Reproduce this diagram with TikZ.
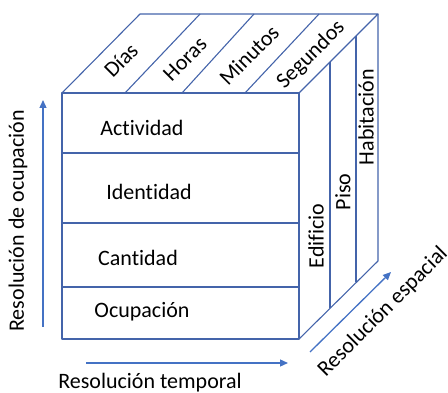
\documentclass[tikz,border=0pt]{standalone}
\usepackage{fontspec}
\setmainfont[Ligatures=NoCommon]{Carlito}
\usepackage{tikz}
\usetikzlibrary{arrows.meta}

\definecolor{cubeblue}{RGB}{68,100,170}
\definecolor{axisblue}{RGB}{68,114,196}

\begin{document}
\begin{tikzpicture}[x=1pt,y=-1pt,
  edgeline/.style={draw=cubeblue, line width=1.1pt, line join=round},
  axisarrow/.style={draw=axisblue, line width=1.3pt, -{Triangle[length=8pt,width=7pt]}},
  celltext/.style={font=\fontsize{22}{24}\selectfont, inner sep=0pt}]
  \useasboundingbox (0,0) rectangle (448,393);

  % corners of the cube
  \coordinate (FTL) at (62,93);
  \coordinate (FTR) at (299,93);
  \coordinate (FBR) at (299,339);
  \coordinate (FBL) at (62,339);
  \coordinate (BTL) at (140,14);
  \coordinate (BTR) at (378,14);
  \coordinate (BBR) at (378,261);

  \draw[edgeline] (FTL) -- (FTR) -- (FBR) -- (FBL) -- cycle;
  \draw[edgeline] (FTL) -- (BTL) -- (BTR) -- (FTR);
  \draw[edgeline] (BTR) -- (BBR) -- (FBR);

  % front rows
  \draw[edgeline] (62,153) -- (299,153);
  \draw[edgeline] (62,223) -- (299,223);
  \draw[edgeline] (62,287) -- (299,287);

  % top strips
  \draw[edgeline] (125,93) -- (200,14);
  \draw[edgeline] (182,93) -- (254,14);
  \draw[edgeline] (245,93) -- (319,14);

  % side strips
  \draw[edgeline] (330,62) -- (330,308);
  \draw[edgeline] (356,36) -- (356,282);

  \node[celltext] (act) at (142,128) {Actividad};
  \node[celltext] (ide) at (149,192) {Identidad};
  \node[celltext] (can) at (138,258) {Cantidad};
  \node[celltext] (ocu) at (142,312) {Ocupación};

  \node[celltext, rotate=45] (dia) at (121,60) {Días};
  \node[celltext, rotate=45] (hor) at (185,59) {Horas};
  \node[celltext, rotate=45] (min) at (249,55) {Minutos};
  \node[celltext, rotate=45] (seg) at (311,55) {Segundos};

  \node[celltext, rotate=90] (edi) at (316,236) {Edificio};
  \node[celltext, rotate=90] (pis) at (343,192) {Piso};
  \node[celltext, rotate=90] (hab) at (366,117) {Habitación};

  % axes
  \coordinate (occA) at (43,327);
  \coordinate (occB) at (43,100);
  \coordinate (temA) at (86,363);
  \coordinate (temB) at (288,363);
  \coordinate (espA) at (310,352);
  \coordinate (espB) at (391,272);
  \draw[axisarrow] (occA) -- (occB);
  \draw[axisarrow] (temA) -- (temB);
  \draw[axisarrow] (espA) -- (espB);

  \node[celltext, rotate=90] (occ) at (18,221) {Resolución de ocupación};
  \node[celltext] (tem) at (150,383) {Resolución temporal};
  \node[celltext, rotate=45] (esp) at (383,312) {Resolución espacial};
\end{tikzpicture}
\end{document}
